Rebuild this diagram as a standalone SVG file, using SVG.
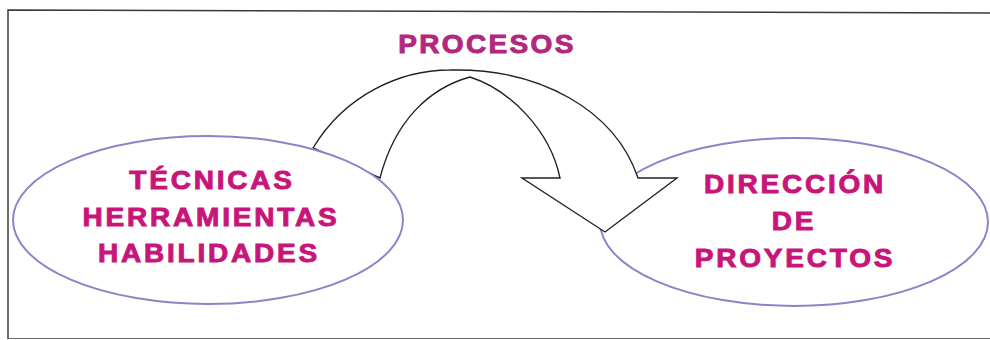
<svg xmlns="http://www.w3.org/2000/svg" width="990" height="340" viewBox="0 0 990 340">
<style>
.frame{fill:none;stroke:#3a3a3a;stroke-width:1.5}
.node{fill:#ffffff;stroke:#8c84c8;stroke-width:2}
.arrow{fill:#ffffff;stroke:#222222;stroke-width:1.4;stroke-linejoin:miter}
.lbl{fill:#c8157a;stroke:#c8157a;stroke-width:0.9;text-anchor:middle}
.title{fill:#b3287f;stroke:#b3287f;stroke-width:0.9;text-anchor:middle}
</style>
<rect x="0" y="0" width="990" height="340" fill="#ffffff"/>
<path class="frame" d="M8,339 L8,10 L990,13"/>
<path d="M8,338.5 L990,338.5" fill="none" stroke="#6a6a6a" stroke-width="1.2"/>
<g id="node-direccion">
<ellipse class="node" cx="794" cy="222" rx="194" ry="84"/>
</g>
<g id="connectors">
<path class="arrow" d="M313,148 C345,95 400,70 450,70 C540,68 615,110 638,178 L677,178 L605,232 L522,178 L560,178 C550,130 510,90 470,77 C430,88 395,120 380,178 Z"/>
</g>
<g id="node-direccion-label" font-family="Liberation Sans, Arial, sans-serif" font-weight="bold" font-size="25" letter-spacing="2.5">
<text class="lbl" transform="translate(795,193) scale(1.12,1)">DIRECCIÓN</text>
<text class="lbl" transform="translate(794,230) scale(1.12,1)">DE</text>
<text class="lbl" transform="translate(795,267) scale(1.12,1)">PROYECTOS</text>
</g>
<g id="node-procesos" font-family="Liberation Sans, Arial, sans-serif" font-weight="bold" font-size="25" letter-spacing="2.1">
<text class="title" transform="translate(487,53) scale(1.12,1)">PROCESOS</text>
</g>
<g id="node-tecnicas" font-family="Liberation Sans, Arial, sans-serif" font-weight="bold" font-size="25" letter-spacing="2.5">
<ellipse class="node" cx="208" cy="220" rx="195" ry="84"/>
<text class="lbl" transform="translate(212,189) scale(1.12,1)">TÉCNICAS</text>
<text class="lbl" transform="translate(211,226) scale(1.12,1)">HERRAMIENTAS</text>
<text class="lbl" transform="translate(209,262) scale(1.12,1)">HABILIDADES</text>
</g>
</svg>
